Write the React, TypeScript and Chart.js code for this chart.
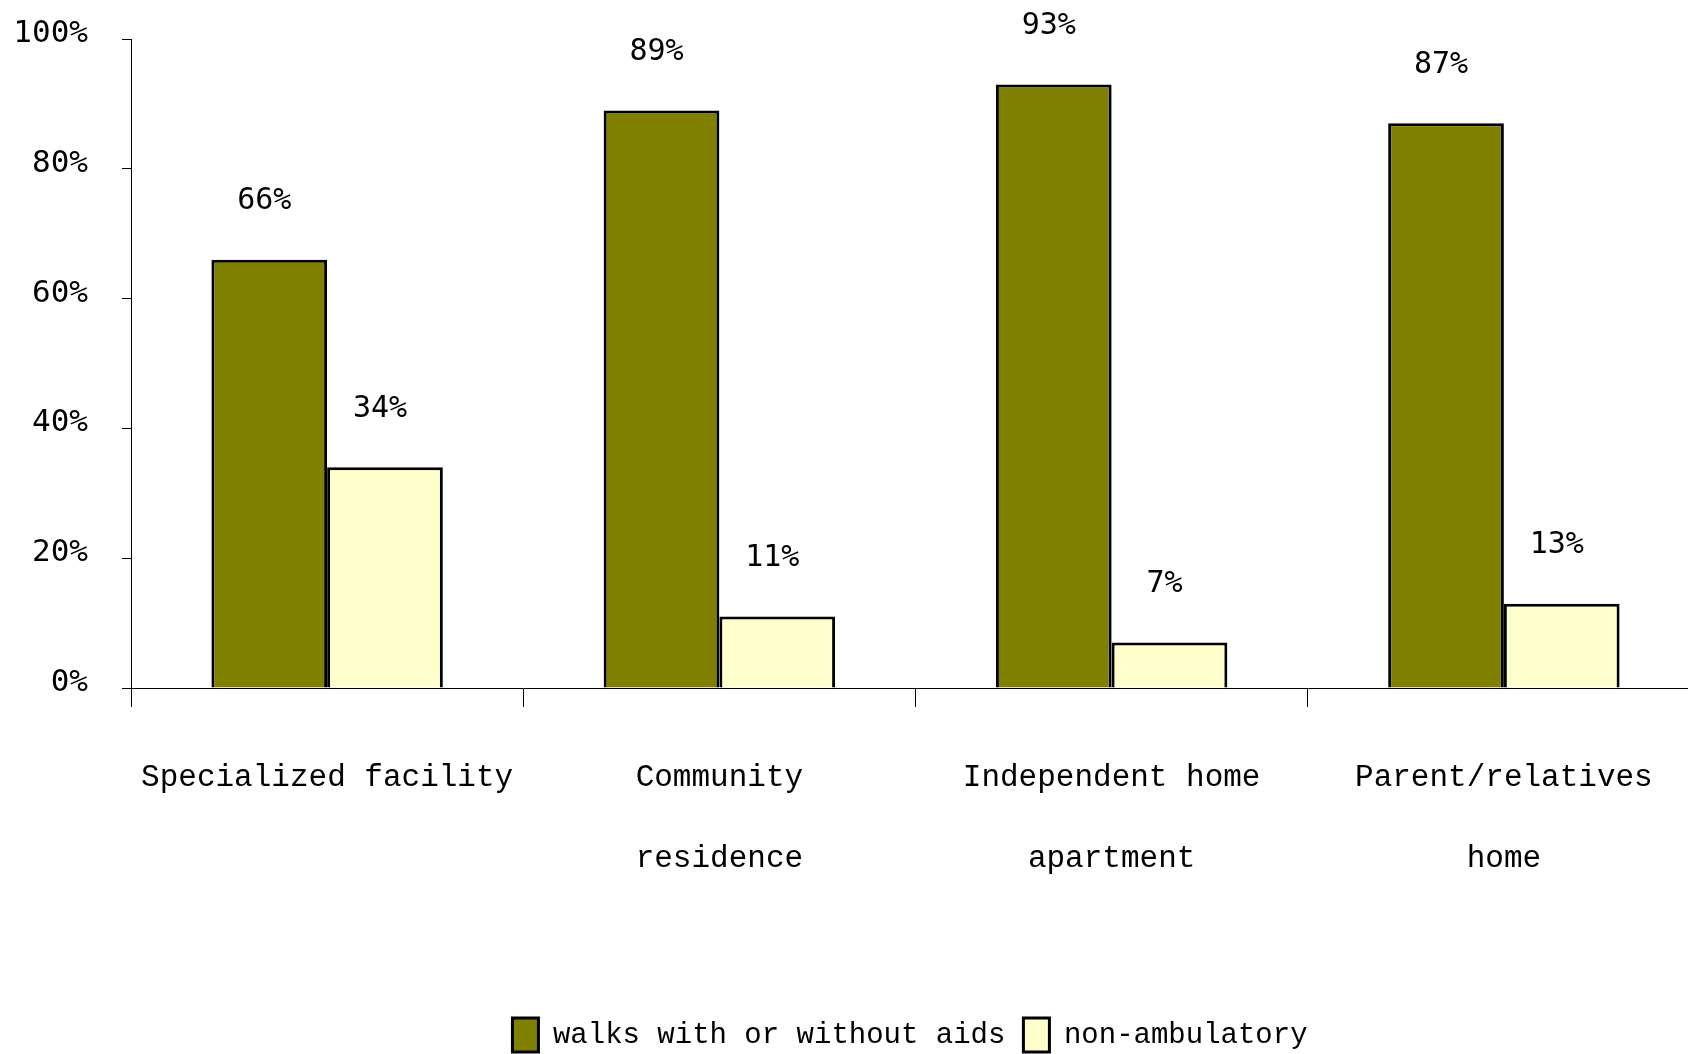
import React, { useEffect, useRef } from "react";
import { Chart, registerables } from "chart.js";

Chart.register(...registerables);

const categories: string[][] = [
  ["Specialized facility"],
  ["Community", "residence"],
  ["Independent home", "apartment"],
  ["Parent/relatives", "home"],
];
const walksValues = [66, 89, 93, 87];
const nonAmbulatoryValues = [34, 11, 7, 13];
const seriesNames = ["walks with or without aids", "non-ambulatory"];
const yTicks = [0, 20, 40, 60, 80, 100];

const MONO = "'Liberation Mono', 'DejaVu Sans Mono', monospace";
const NUM = "'DejaVu Sans Mono', monospace";

const valueLabels = {
  id: "valueLabels",
  afterDatasetsDraw(chart: any) {
    const ctx = chart.ctx;
    ctx.save();
    ctx.font = `30px ${NUM}`;
    ctx.fillStyle = "#000";
    ctx.textAlign = "center";
    ctx.textBaseline = "middle";
    chart.data.datasets.forEach((ds: any, i: number) => {
      const meta = chart.getDatasetMeta(i);
      meta.data.forEach((bar: any, j: number) => {
        ctx.fillText(`${ds.data[j]}%`, bar.x - 5, bar.y - 58);
      });
    });
    ctx.restore();
  },
};

const legendShift = {
  id: "legendShift",
  afterLayout(chart: any) {
    const lg = chart.legend;
    if (!lg) return;
    const dx = 60;
    const dy = 8;
    lg.left += dx;
    lg.right += dx;
    lg.top += dy;
    lg.bottom += dy;
  },
};

export default function App() {
  const ref = useRef<HTMLCanvasElement>(null);
  useEffect(() => {
    if (!ref.current) return;
    const chart = new Chart(ref.current, {
      type: "bar",
      data: {
        labels: categories,
        datasets: [
          {
            label: seriesNames[0],
            data: walksValues,
            backgroundColor: "#808000",
            borderColor: "#000",
            borderWidth: 3,
            categoryPercentage: 0.59,
            barPercentage: 1,
          },
          {
            label: seriesNames[1],
            data: nonAmbulatoryValues,
            backgroundColor: "#FFFFCC",
            borderColor: "#000",
            borderWidth: 3,
            categoryPercentage: 0.59,
            barPercentage: 1,
          },
        ],
      },
      options: {
        animation: false,
        responsive: true,
        maintainAspectRatio: false,
        layout: { padding: { top: 39, left: 0, right: 0, bottom: 0 } },
        plugins: {
          tooltip: { enabled: false },
          legend: {
            position: "bottom",
            labels: {
              color: "#000",
              font: { family: MONO, size: 29 },
              boxWidth: 26,
              boxHeight: 34,
              padding: 18,
            },
          },
        },
        scales: {
          x: {
            grid: {
              offset: true,
              drawOnChartArea: false,
              drawTicks: true,
              tickLength: 19,
              color: "#000",
            },
            border: { display: true, color: "#000", width: 1 },
            ticks: {
              color: "#000",
              font: { family: MONO, size: 31, lineHeight: 2.61 },
              padding: 30,
              maxRotation: 0,
              autoSkip: false,
            },
            afterFit(scale: any) {
              scale.height = 304;
            },
          },
          y: {
            min: 0,
            max: 100,
            afterBuildTicks(scale: any) {
              scale.ticks = yTicks.map((v) => ({ value: v }));
            },
            grid: {
              drawOnChartArea: false,
              drawTicks: true,
              tickLength: 9,
              color: "#000",
            },
            border: { display: true, color: "#000", width: 1 },
            ticks: {
              color: "#000",
              font: { family: NUM, size: 31 },
              padding: 34,
              labelOffset: -5,
              callback: (v: any) => `${v}%`,
            },
            afterFit(scale: any) {
              scale.width = 131;
              scale.paddingTop = 0;
              scale.paddingBottom = 0;
            },
          },
        },
      },
      plugins: [valueLabels, legendShift],
    });
    return () => chart.destroy();
  }, []);
  return (
    <div
      style={{
        position: "fixed",
        left: 0,
        top: 0,
        width: 1688,
        height: 1054,
        overflow: "hidden",
        background: "#fff",
      }}
    >
      <div style={{ width: 1700, height: 1054, position: "relative" }}>
        <canvas ref={ref} />
      </div>
    </div>
  );
}
